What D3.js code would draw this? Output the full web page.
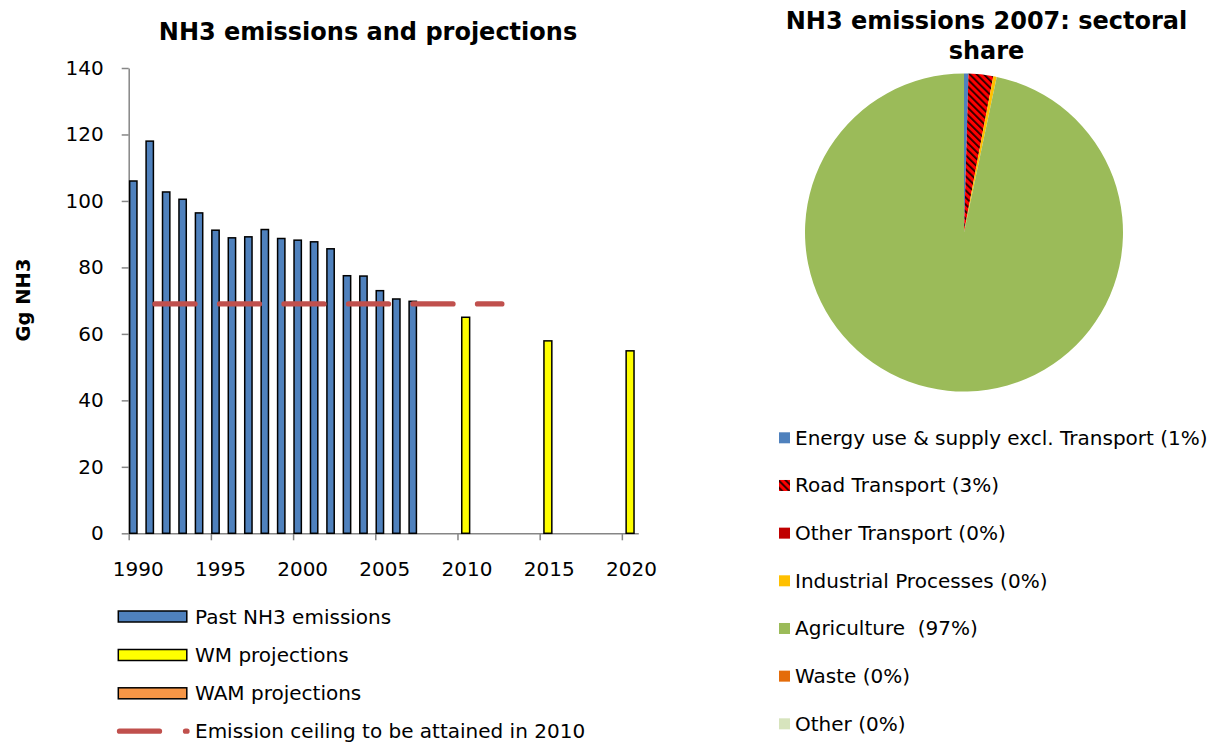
<!DOCTYPE html>
<html>
<head>
<meta charset="utf-8">
<script src="https://cdn.jsdelivr.net/npm/d3@7"></script>
<style>
  body { margin: 0; background: #fff; }
  text { font-family: "DejaVu Sans", Verdana, sans-serif; fill: #000; white-space: pre; }
</style>
</head>
<body>
<div id="container"></div>
<script>
// DATA
const pastYears = [1990, 1991, 1992, 1993, 1994, 1995, 1996, 1997, 1998, 1999, 2000, 2001, 2002, 2003, 2004, 2005, 2006, 2007];
const pastValues = [106, 118, 102.7, 100.5, 96.4, 91.2, 88.9, 89.2, 91.4, 88.7, 88.2, 87.7, 85.6, 77.5, 77.4, 73.0, 70.5, 69.8];
const wmYears = [2010, 2015, 2020];
const wmValues = [65.0, 57.9, 54.9];
const ceilingYears = [1991.6, 2012.7];
const ceilingValue = 69;
const yTicks = [0, 20, 40, 60, 80, 100, 120, 140];
const xTicks = [1990, 1995, 2000, 2005, 2010, 2015, 2020];
const barLegend = ["Past NH3 emissions", "WM projections", "WAM projections", "Emission ceiling to be attained in 2010"];

const sectors = ["Energy use & supply excl. Transport (1%)", "Road Transport (3%)", "Other Transport (0%)",
                 "Industrial Processes (0%)", "Agriculture  (97%)", "Waste (0%)", "Other (0%)"];
const shares = [0.45, 2.5, 0, 0.35, 96.7, 0, 0];
const sectorColors = ["#4F81BD", "url(#hatch)", "#C00000", "#FFC000", "#9BBB59", "#E46C0A", "#D7E4BD"];

const w = 1209, h = 742;
const plot = {left: 128.7, right: 638.3, top: 68, bottom: 533.3};
const fontSize = '20px';

const chart = d3.select('#container')
                .append('svg')
                .attr('width', w)
                .attr('height', h);

// hatch for road transport
const defs = chart.append('defs');
const hatch = defs.append('pattern')
                  .attr('id', 'hatch')
                  .attr('patternUnits', 'userSpaceOnUse')
                  .attr('width', 5)
                  .attr('height', 5)
                  .attr('patternTransform', 'rotate(-45)');
hatch.append('rect').attr('width', 5).attr('height', 5).attr('fill', '#FF0000');
hatch.append('rect').attr('width', 1.8).attr('height', 5).attr('fill', '#000').attr('opacity', 0.85);

// TITLES
chart.append('text')
     .attr('x', 368).attr('y', 40)
     .attr('text-anchor', 'middle')
     .style('font-size', '24px').style('font-weight', 'bold')
     .text("NH3 emissions and projections");

chart.append('text')
     .attr('transform', 'translate(30, 300) rotate(-90)')
     .attr('text-anchor', 'middle')
     .style('font-size', '19.5px').style('font-weight', 'bold')
     .text("Gg NH3");

// SCALES
const x = d3.scaleLinear().domain([1990, 2021]).range([plot.left, plot.right]);
const y = d3.scaleLinear().domain([0, 140]).range([plot.bottom, plot.top]);

// AXES
const yAxis = d3.axisLeft(y).tickValues(yTicks).tickSize(7).tickSizeOuter(0).tickPadding(18);
const gy = chart.append('g')
                .attr('transform', `translate(${plot.left},0)`)
                .call(yAxis);
gy.selectAll('text').style('font-size', fontSize).attr('font-family', null);

const xAxis = d3.axisBottom(x).tickValues(xTicks).tickSize(7).tickSizeOuter(0).tickFormat(d3.format('d'));
const gx = chart.append('g')
                .attr('transform', `translate(0,${plot.bottom})`)
                .call(xAxis);
gx.selectAll('text')
  .style('font-size', fontSize)
  .attr('x', x(1990.55) - x(1990))
  .attr('y', 29)
  .attr('font-family', null);

[gx, gy].forEach(g => {
  g.select('.domain').attr('stroke', '#868686').attr('stroke-width', 1.5);
  g.selectAll('.tick line').attr('stroke', '#868686').attr('stroke-width', 1.5);
});

// BARS
const pastW = x(1990.445) - x(1990);
chart.selectAll('rect.past')
     .data(pastYears).enter()
     .append('rect')
     .attr('class', 'past')
     .attr('x', (d) => x(d + 0.28) - pastW / 2)
     .attr('y', (d, i) => y(pastValues[i]))
     .attr('width', pastW)
     .attr('height', (d, i) => y(0) - y(pastValues[i]))
     .attr('fill', '#4F81BD')
     .attr('stroke', '#000')
     .attr('stroke-width', 1.5);

const wmW = x(1990.48) - x(1990);
chart.selectAll('rect.wm')
     .data(wmYears).enter()
     .append('rect')
     .attr('class', 'wm')
     .attr('x', (d) => x(d + 0.5) - wmW / 2)
     .attr('y', (d, i) => y(wmValues[i]))
     .attr('width', wmW)
     .attr('height', (d, i) => y(0) - y(wmValues[i]))
     .attr('fill', '#FFFF00')
     .attr('stroke', '#000')
     .attr('stroke-width', 1.5);

// ceiling line
chart.append('path')
     .datum(ceilingYears)
     .attr('d', d3.line().x(d => x(d)).y(() => y(ceilingValue)))
     .attr('stroke', '#C0504D')
     .attr('stroke-width', 5.3)
     .attr('stroke-linecap', 'round')
     .attr('stroke-dasharray', '40 24.5')
     .attr('fill', 'none');

// BAR LEGEND
const legRowY = [616.5, 655, 693.3, 731.2];
const legFill = ['#4F81BD', '#FFFF00', '#F79646'];
const barLeg = chart.append('g').attr('id', 'bar-legend');
barLegend.forEach((label, i) => {
  if (i < 3) {
    barLeg.append('rect')
          .attr('x', 118.3).attr('y', legRowY[i] - 5.5)
          .attr('width', 68.5).attr('height', 11)
          .attr('fill', legFill[i])
          .attr('stroke', '#000').attr('stroke-width', 1.5);
  } else {
    barLeg.append('line')
          .attr('x1', 119.5).attr('x2', 187)
          .attr('y1', legRowY[i]).attr('y2', legRowY[i])
          .attr('stroke', '#C0504D').attr('stroke-width', 5.3)
          .attr('stroke-linecap', 'round')
          .attr('stroke-dasharray', '40 26');
  }
  barLeg.append('text')
        .attr('x', 195).attr('y', legRowY[i] + 7)
        .style('font-size', fontSize)
        .text(label);
});

// PIE
chart.append('text')
     .attr('x', 986.5).attr('text-anchor', 'middle')
     .style('font-size', '24px').style('font-weight', 'bold')
     .selectAll('tspan')
     .data(["NH3 emissions 2007: sectoral", "share"]).enter()
     .append('tspan')
     .attr('x', 986.5)
     .attr('y', (d, i) => 29 + i * 29.5)
     .text(d => d);

const pie = d3.pie().sort(null).value(d => d);
const arc = d3.arc().innerRadius(0).outerRadius(159);
chart.append('g')
     .attr('transform', 'translate(964,232.5)')
     .selectAll('path')
     .data(pie(shares)).enter()
     .append('path')
     .attr('d', arc)
     .attr('fill', (d, i) => sectorColors[i]);

// PIE LEGEND
const pieLeg = chart.append('g').attr('id', 'pie-legend');
sectors.forEach((label, i) => {
  const cy = 437.8 + i * 47.67;
  pieLeg.append('rect')
        .attr('x', 779).attr('y', cy - 5.5)
        .attr('width', 11).attr('height', 11)
        .attr('fill', sectorColors[i]);
  pieLeg.append('text')
        .attr('x', 795).attr('y', cy + 7)
        .style('font-size', fontSize)
        .text(label);
});
</script>
</body>
</html>
